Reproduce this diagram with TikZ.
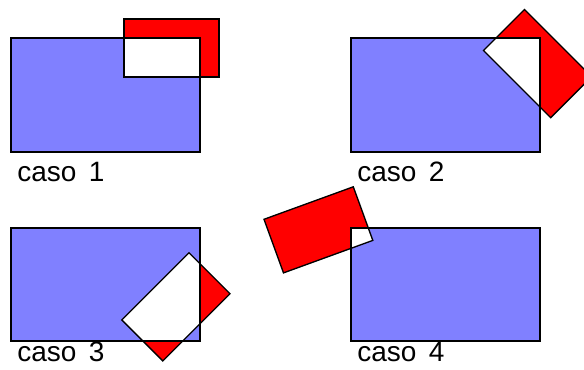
\documentclass[tikz,border=0pt]{standalone}
\usepackage{fontspec}
\setmainfont{Liberation Sans}
\tikzset{
  bluefill/.style={fill=blue!50},
  redfill/.style={fill=red},
  outline/.style={draw=black, line width=1pt, line join=miter},
  lbl/.style={anchor=base west, inner sep=0pt, font=\fontsize{21}{24}\selectfont},
}
\newcommand\casolabel[1]{caso\hspace{3.5pt} #1}
\begin{document}
\begin{tikzpicture}[x=0.75pt,y=-0.75pt]
\useasboundingbox (0,0) rectangle (584,370);
\clip (0,0) rectangle (584,370);
% ---------- caso 1
\fill[bluefill] (11,38) rectangle (200,152);
\fill[redfill] (124,19) rectangle (219,77);
\begin{scope}
  \clip (11,38) rectangle (200,152);
  \fill[white] (124,19) rectangle (219,77);
\end{scope}
\draw[outline] (11,38) rectangle (200,152);
\draw[outline] (124,19) rectangle (219,77);
\node[lbl] (c1) at (17,181.5) {\casolabel{1}};
% ---------- caso 2
\fill[bluefill] (351,38) rectangle (540,152);
\fill[redfill] (483.5,50.5) -- (524.5,9.5) -- (591.7,76.7) -- (550.7,117.7) -- cycle;
\begin{scope}
  \clip (351,38) rectangle (540,152);
  \fill[white] (483.5,50.5) -- (524.5,9.5) -- (591.7,76.7) -- (550.7,117.7) -- cycle;
\end{scope}
\draw[outline] (351,38) rectangle (540,152);
\draw[outline] (483.5,50.5) -- (524.5,9.5) -- (591.7,76.7) -- (550.7,117.7) -- cycle;
\node[lbl] (c2) at (357,181.5) {\casolabel{2}};
% ---------- caso 3
\fill[bluefill] (11,228) rectangle (200,341);
\fill[redfill] (189,252.7) -- (230,293.7) -- (162.8,360.9) -- (121.8,319.9) -- cycle;
\begin{scope}
  \clip (11,228) rectangle (200,341);
  \fill[white] (189,252.7) -- (230,293.7) -- (162.8,360.9) -- (121.8,319.9) -- cycle;
\end{scope}
\draw[outline] (11,228) rectangle (200,341);
\draw[outline] (189,252.7) -- (230,293.7) -- (162.8,360.9) -- (121.8,319.9) -- cycle;
\node[lbl] (c3) at (17,361.5) {\casolabel{3}};
% ---------- caso 4
\fill[bluefill] (351,228) rectangle (540,341);
\fill[redfill] (264,219.3) -- (353.3,186.8) -- (372.8,240.4) -- (283.5,272.9) -- cycle;
\begin{scope}
  \clip (351,228) rectangle (540,341);
  \fill[white] (264,219.3) -- (353.3,186.8) -- (372.8,240.4) -- (283.5,272.9) -- cycle;
\end{scope}
\draw[outline] (351,228) rectangle (540,341);
\draw[outline] (264,219.3) -- (353.3,186.8) -- (372.8,240.4) -- (283.5,272.9) -- cycle;
\node[lbl] (c4) at (357,361.5) {\casolabel{4}};
\end{tikzpicture}
\end{document}
